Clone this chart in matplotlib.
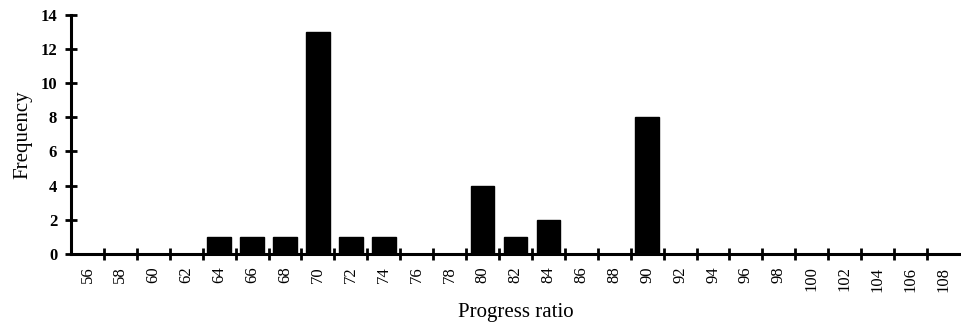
import numpy as np
import matplotlib.pyplot as plt
from matplotlib.ticker import FixedLocator

plt.rcParams['font.family'] = ['Liberation Serif', 'DejaVu Serif']

ratios = list(range(56, 110, 2))
freq = [0, 0, 0, 0, 1, 1, 1, 13, 1, 1, 0, 0, 4, 1, 2, 0, 0, 8,
        0, 0, 0, 0, 0, 0, 0, 0, 0]
labels = [str(r) for r in ratios]

fig = plt.figure(figsize=(9.61, 3.24), dpi=100)
ax = fig.add_axes([0.0739, 0.216, 0.925, 0.7386])

x = np.arange(len(ratios))
ax.bar(x, freq, width=0.72, color='black', edgecolor='black')

ax.set_xlim(-0.5, len(ratios) - 0.5)
ax.set_ylim(0, 14)

ax.set_xticks(x)
ax.set_xticklabels(labels, rotation=90, fontsize=12)
ax.xaxis.set_minor_locator(FixedLocator(x[1:] - 0.5))
ax.tick_params(axis='x', which='major', length=0, pad=9)
ax.tick_params(axis='x', which='minor', direction='inout', length=9, width=2)

ax.set_yticks(range(0, 15, 2))
ax.tick_params(axis='y', direction='inout', length=8, width=2, labelsize=12, pad=6)
for t in ax.get_yticklabels():
    t.set_fontweight('bold')

for side in ['top', 'right']:
    ax.spines[side].set_visible(False)
ax.spines['left'].set_linewidth(2.2)
ax.spines['bottom'].set_linewidth(2.2)

ax.set_ylabel('Frequency', fontsize=15, labelpad=6)
ax.set_xlabel('Progress ratio', fontsize=15, labelpad=8)

fig.savefig('out.png', dpi=100)
